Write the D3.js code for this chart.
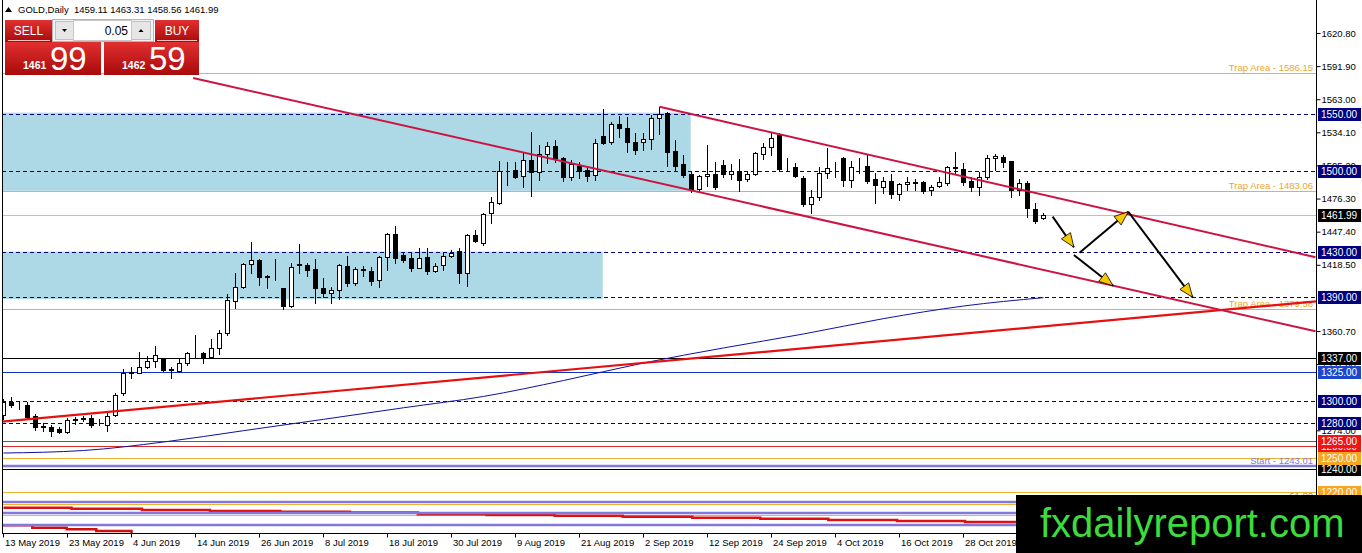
<!DOCTYPE html>
<html>
<head>
<meta charset="utf-8">
<script src="https://cdn.jsdelivr.net/npm/d3@7"></script>
<style>
  html, body { margin: 0; padding: 0; background: #fff; overflow: hidden; }
  svg { display: block; font-family: "Liberation Sans", Arial, sans-serif; }
</style>
</head>
<body>
<div class="d3"></div>
<script>
// GOLD daily candles, 13 May 2019 .. 8 Nov 2019
const candleOpen = [1287.2,1299.0,1296.3,1296.0,1286.5,1277.5,1277.2,1275.0,1272.8,1283.4,1284.3,1284.5,1278.9,1278.7,1287.2,1306.6,1324.0,1324.3,1329.6,1334.4,
  1336.3,1327.0,1326.0,1332.5,1340.4,1341.2,1338.2,1345.6,1359.2,1386.9,1399.4,1419.2,1422.7,1408.3,1408.5,1398.0,1382.5,1418.7,1418.3,1414.6,
  1398.0,1394.1,1396.5,1417.7,1402.9,1414.5,1413.0,1405.2,1425.6,1445.4,1427.0,1424.2,1416.0,1425.0,1413.3,1418.3,1426.2,1430.5,1411.6,1444.5,
  1437.8,1463.9,1472.7,1500.0,1501.2,1496.0,1510.0,1499.7,1514.9,1522.2,1512.0,1494.9,1504.7,1501.2,1496.9,1530.9,1525.9,1541.1,1537.6,1525.9,
  1525.4,1528.0,1546.3,1551.2,1517.8,1506.2,1497.7,1484.4,1496.0,1497.7,1505.6,1497.7,1500.3,1493.1,1497.7,1515.2,1520.9,1531.8,1503.4,1503.6,
  1494.0,1471.5,1478.0,1498.3,1503.4,1511.4,1492.5,1504.5,1504.7,1493.1,1486.6,1491.9,1480.3,1489.0,1490.0,1490.5,1483.8,1487.3,1490.1,1503.4,
  1501.8,1491.9,1486.6,1495.4,1511.4,1512.8,1509.3,1483.8,1490.1,1466.9,1459.11];
const candleHigh = [1301.5,1303.4,1300.0,1299.0,1288.0,1280.0,1278.7,1276.6,1284.5,1285.4,1286.5,1287.2,1283.6,1288.9,1306.6,1327.2,1329.0,1342.6,1338.8,1347.5,
  1336.9,1329.6,1336.9,1342.6,1357.2,1342.6,1353.5,1361.6,1393.0,1411.1,1420.3,1438.6,1423.3,1409.6,1423.3,1398.0,1419.8,1436.6,1419.8,1423.3,
  1406.7,1399.4,1419.0,1426.2,1417.0,1417.5,1416.8,1426.2,1446.5,1452.3,1429.0,1428.5,1432.9,1432.9,1420.0,1429.0,1431.0,1432.9,1445.4,1448.9,
  1463.9,1477.4,1509.0,1508.5,1508.0,1517.2,1534.6,1523.1,1525.9,1527.4,1513.0,1510.0,1508.0,1504.1,1528.0,1554.2,1543.4,1548.2,1547.4,1533.2,
  1533.2,1549.2,1556.5,1552.1,1527.4,1514.3,1499.7,1497.0,1523.1,1508.5,1509.9,1506.5,1510.6,1499.7,1516.5,1525.1,1533.2,1533.2,1511.4,1507.6,
  1496.0,1483.8,1504.1,1520.1,1508.5,1512.3,1509.3,1511.4,1514.3,1498.3,1494.9,1497.7,1490.1,1495.4,1493.2,1491.9,1487.7,1495.4,1505.0,1517.2,
  1507.1,1494.9,1499.7,1514.3,1515.2,1514.3,1509.5,1493.1,1491.9,1472.2,1463.31];
const candleLow = [1283.5,1294.0,1292.6,1284.5,1274.3,1273.4,1269.0,1271.4,1271.9,1279.5,1282.4,1277.2,1278.5,1273.7,1286.5,1304.6,1319.4,1323.7,1328.0,1329.0,
  1326.0,1319.4,1325.2,1331.0,1338.2,1332.5,1336.9,1340.6,1357.2,1380.5,1398.0,1411.1,1400.8,1398.0,1405.2,1379.6,1381.4,1411.1,1408.7,1385.4,
  1390.1,1384.9,1388.6,1400.0,1400.8,1409.0,1400.8,1399.4,1413.9,1419.8,1421.2,1413.3,1415.5,1410.4,1411.8,1413.9,1425.0,1402.9,1400.0,1438.6,
  1435.8,1455.3,1471.5,1488.1,1494.0,1486.6,1478.5,1492.5,1507.1,1508.5,1492.0,1492.5,1494.0,1491.9,1492.5,1523.6,1523.9,1530.0,1517.0,1515.2,
  1518.7,1519.3,1532.4,1504.7,1501.2,1494.9,1482.3,1482.5,1487.3,1484.4,1495.4,1493.1,1483.2,1491.9,1496.5,1510.6,1514.3,1500.6,1501.2,1494.9,
  1469.8,1463.4,1475.0,1494.0,1494.9,1487.3,1486.6,1498.3,1490.1,1472.7,1481.4,1476.5,1475.0,1483.8,1483.8,1480.9,1479.4,1486.6,1487.9,1498.9,
  1488.1,1483.2,1479.4,1493.1,1501.2,1504.1,1478.0,1479.4,1460.0,1455.3,1458.56];
const candleClose = [1299.0,1296.0,1296.0,1285.4,1277.2,1277.0,1273.7,1272.8,1283.0,1283.8,1284.7,1278.7,1278.7,1286.5,1304.6,1323.7,1324.6,1329.0,1334.4,1339.7,
  1326.7,1327.4,1332.5,1341.2,1340.8,1338.2,1345.6,1359.2,1387.7,1398.8,1419.2,1422.7,1407.6,1407.9,1408.9,1382.5,1416.8,1419.1,1413.9,1398.0,
  1394.1,1396.5,1418.0,1402.3,1414.8,1413.6,1404.6,1425.6,1445.4,1424.2,1422.7,1416.0,1424.2,1413.3,1417.4,1426.2,1429.0,1411.6,1444.5,1439.5,
  1462.8,1473.0,1500.3,1500.6,1494.9,1510.0,1499.7,1515.2,1522.2,1511.4,1494.9,1506.2,1500.6,1496.0,1525.1,1525.1,1541.1,1537.6,1525.9,1518.7,
  1528.0,1546.3,1550.1,1517.2,1504.7,1496.9,1484.4,1496.0,1497.7,1486.1,1497.7,1500.3,1492.5,1497.7,1515.7,1520.9,1529.5,1502.1,1503.0,1496.0,
  1471.5,1478.0,1498.3,1503.2,1503.0,1492.5,1504.1,1504.9,1491.9,1488.1,1491.9,1480.3,1489.0,1491.0,1491.0,1483.2,1486.1,1491.0,1503.7,1503.8,
  1491.0,1486.6,1495.4,1511.4,1513.4,1508.5,1483.8,1489.6,1467.8,1457.0,1461.99];

const dateTickIndex = [0, 8, 16, 24, 32, 40, 48, 56, 64, 72, 80, 88, 96, 104, 112, 120];
const dateTickLabels = ['13 May 2019', '23 May 2019', '4 Jun 2019', '14 Jun 2019', '26 Jun 2019', '8 Jul 2019', '18 Jul 2019', '30 Jul 2019',
  '9 Aug 2019', '21 Aug 2019', '2 Sep 2019', '12 Sep 2019', '24 Sep 2019', '4 Oct 2019', '16 Oct 2019', '28 Oct 2019'];
// scale labels that stay readable (the rest sit under the price boxes)
const priceTicks = [1620.8, 1591.9, 1563.0, 1534.1, 1505.2, 1476.3, 1447.4, 1418.5, 1360.7, 1331.8, 1274.0];

// horizontal objects
const dashedLevels = [1550, 1500, 1430, 1390, 1300, 1280];
const trapLevels = [1586.15, 1483.06, 1379.58];
const blackLevels = [1337, 1240];
const blueLevels = [1325];
const redLevels = [1260, 1265];
const orangeLevels = [1250, 1220];
const fiboLevels = [1209.7, 1200.1];
const purpleLevels = [1243.01, 1211.7, 1202.1, 1191.4];
const bidPrice = 1461.99;
const askPrice = 1462.59;
const lotSize = '0.05';

// zones: [from index, to index, top price, bottom price]
const zoneUpper = [-0.2, 85.9, 1551.3, 1483.06];
const zoneLower = [-0.2, 74.9, 1430, 1388.5];

// trend lines [index, price]
const channelLong = [[23.7, 1581.5], [164, 1360.5]];
const channelTop = [[82, 1556.5], [164, 1425.1]];
const supportLine = [[-0.44, 1281.5], [164.06, 1386.6]];

// moving average, read at every 10th bar
const maIndex = [0, 10, 20, 30, 40, 50, 60, 70, 80, 90, 100, 110, 120, 130];
const maValue = [1254.2, 1256.4, 1263.8, 1273.7, 1283.6, 1293.7, 1303.6, 1317.5, 1332.8, 1345.9, 1358.1, 1371.5, 1382.5, 1389.8];

// stepped pivot lines [start index, price]
const pivotUpper = [[0, 1206.5], [8.5, 1205.6], [17.3, 1204.5], [25.8, 1203.6], [34.6, 1203.0], [43.3, 1202.3], [51.8, 1200.8], [60.4, 1200.2],
  [68.9, 1199.5], [77.4, 1198.6], [86.1, 1197.8], [94.6, 1196.9], [103.1, 1195.7], [111.7, 1194.9], [120.2, 1194.0], [164, 1194.0]];
const pivotLower = [[-0.4, 1191.1], [3.6, 1189.0], [7.9, 1187.6], [11.6, 1186.1], [16.0, 1183.0]];

// forecast arrows
const arrowStart = [[131.15, 1460.5], [134.5, 1429.0], [140.6, 1464.8], [133.8, 1427.1]];
const arrowEnd = [[133.8, 1433.8], [140.6, 1464.8], [148.65, 1390.1], [138.7, 1400.2]];

const chartTitle = 'GOLD,Daily  1459.11 1463.31 1458.56 1461.99';
const logoText = 'fxdailyreport.com';

let width = 1362;
let height = 553;
let plotLeft = 2, plotRight = 1316, plotBottom = 533;

let svg = d3.select('.d3').append('svg').attr('width', width).attr('height', height);

let x = d3.scaleLinear().domain([0, 163]).range([3.5, 3.5 + 8 * 163]);
let y = d3.scaleLinear().domain([1184.4, 1649.6]).range([plotBottom, 0]);
let ySnap = p => Math.round(y(p)) + 0.5;

let defs = svg.append('defs');
defs.append('clipPath').attr('id', 'plot')
  .append('rect').attr('x', plotLeft).attr('y', 0).attr('width', plotRight - plotLeft).attr('height', plotBottom);
let grad = defs.append('linearGradient').attr('id', 'redGrad').attr('x1', 0).attr('y1', 0).attr('x2', 0).attr('y2', 1);
grad.append('stop').attr('offset', '0%').attr('stop-color', '#e23030');
grad.append('stop').attr('offset', '100%').attr('stop-color', '#a80a0a');

let plot = svg.append('g').attr('clip-path', 'url(#plot)');

// zones
[zoneUpper, zoneLower].forEach(z => {
  plot.append('rect')
    .attr('x', x(z[0])).attr('width', x(z[1]) - x(z[0]))
    .attr('y', y(z[2])).attr('height', y(z[3]) - y(z[2]))
    .attr('fill', '#add8e6');
});

// horizontal levels
function hline(p, color, w, dash) {
  plot.append('line')
    .attr('x1', plotLeft).attr('x2', plotRight)
    .attr('y1', ySnap(p)).attr('y2', ySnap(p))
    .attr('stroke', color).attr('stroke-width', w)
    .attr('stroke-dasharray', dash || null)
    .attr('shape-rendering', 'crispEdges');
}
orangeLevels.forEach(p => hline(p, '#f0b030', 1));
fiboLevels.forEach(p => hline(p, '#f0b030', 1));
trapLevels.forEach(p => hline(p, '#f0b030', 1));
redLevels.forEach(p => hline(p, '#d42a2a', 1));
blackLevels.forEach(p => hline(p, '#000', 1));
blueLevels.forEach(p => hline(p, '#1030c8', 1));
dashedLevels.forEach(p => hline(p, '#000080', 1, '4,3'));
hline(bidPrice, '#c0c0c0', 1);

// stepped pivots
let stepLine = d3.line().x(d => x(d[0])).y(d => y(d[1])).curve(d3.curveStepAfter);
plot.append('path').attr('d', stepLine(pivotUpper)).attr('fill', 'none').attr('stroke', '#e01010').attr('stroke-width', 2.5);
plot.append('path').attr('d', stepLine(pivotLower)).attr('fill', 'none').attr('stroke', '#d01010').attr('stroke-width', 2.5);
purpleLevels.forEach(p => {
  plot.append('line').attr('x1', plotLeft).attr('x2', plotRight)
    .attr('y1', Math.round(y(p))).attr('y2', Math.round(y(p)))
    .attr('stroke', '#8278dc').attr('stroke-width', 2.5);
});

// level captions
function caption(p, text, color) {
  plot.append('text').attr('x', plotRight - 3).attr('y', y(p) - 2)
    .attr('text-anchor', 'end').attr('font-size', 9.5).attr('fill', color).text(text);
}
caption(1586.15, 'Trap Area  - 1586.15', '#eea630');
caption(1483.06, 'Trap Area - 1483.06', '#eea630');
caption(1379.58, 'Trap Area - 1379.58', '#eea630');
caption(1243.01, 'Start - 1243.01', '#8278dc');
caption(1212.5, '61.80', '#909090');

// candles
let candles = plot.append('g');
candleOpen.forEach((o, i) => {
  let c = candleClose[i];
  let cx = x(i);
  candles.append('line')
    .attr('x1', cx).attr('x2', cx)
    .attr('y1', Math.round(y(candleHigh[i]))).attr('y2', Math.round(y(candleLow[i])) + 1)
    .attr('stroke', '#000').attr('stroke-width', 1);
  let top = ySnap(Math.max(o, c));
  let bot = ySnap(Math.min(o, c));
  candles.append('rect')
    .attr('x', cx - 2).attr('width', 4)
    .attr('y', top).attr('height', Math.max(bot - top, 0))
    .attr('fill', c >= o ? '#fff' : '#000')
    .attr('stroke', '#000').attr('stroke-width', 1)
    .attr('shape-rendering', 'crispEdges');
});

// moving average
let maLine = d3.line().x((d, i) => x(maIndex[i])).y(d => y(d)).curve(d3.curveMonotoneX);
plot.append('path').attr('d', maLine(maValue)).attr('fill', 'none').attr('stroke', '#1010a0').attr('stroke-width', 1);

// trend lines
let seg = d3.line().x(d => x(d[0])).y(d => y(d[1]));
plot.append('path').attr('d', seg(supportLine)).attr('stroke', '#e61010').attr('stroke-width', 2.2).attr('fill', 'none');
[channelLong, channelTop].forEach(l => {
  plot.append('path').attr('d', seg(l)).attr('stroke', '#cc1442').attr('stroke-width', 2).attr('fill', 'none');
});

// arrows
arrowStart.forEach((s, i) => {
  let e = arrowEnd[i];
  let x1 = x(s[0]), y1 = y(s[1]), x2 = x(e[0]), y2 = y(e[1]);
  plot.append('line').attr('x1', x1).attr('y1', y1).attr('x2', x2).attr('y2', y2)
    .attr('stroke', '#000').attr('stroke-width', 2);
  let len = Math.hypot(x2 - x1, y2 - y1);
  let ux = (x2 - x1) / len, uy = (y2 - y1) / len;
  let bx = x2 - ux * 14, by = y2 - uy * 14;
  let pts = [[x2, y2], [bx - uy * 5.5, by + ux * 5.5], [bx + uy * 5.5, by - ux * 5.5]];
  plot.append('polygon').attr('points', pts.map(p => p.join(',')).join(' '))
    .attr('fill', '#f5c800').attr('stroke', '#000').attr('stroke-width', 0.8);
});

// frame
svg.append('line').attr('x1', plotLeft + 0.5).attr('x2', plotLeft + 0.5).attr('y1', 0).attr('y2', plotBottom).attr('stroke', '#000');
svg.append('line').attr('x1', plotRight + 0.5).attr('x2', plotRight + 0.5).attr('y1', 0).attr('y2', plotBottom + 1).attr('stroke', '#000');

// axes
let xAxis = d3.axisBottom(x).tickValues(dateTickIndex).tickSize(4).tickFormat((d, i) => dateTickLabels[i]);
let gx = svg.append('g').attr('transform', 'translate(-0.5,' + (plotBottom + 0.5) + ')').call(xAxis);
gx.select('.domain').attr('d', 'M' + (plotLeft + 0.5) + ',0H' + (plotRight + 1));
gx.selectAll('text').attr('text-anchor', 'start').attr('dx', 1.5).attr('dy', '0.6em')
  .attr('font-size', 9.5).attr('font-family', '"Liberation Sans", Arial, sans-serif').attr('fill', '#000');

let yAxis = d3.axisRight(y).tickValues(priceTicks).tickSize(4).tickFormat(d3.format('.2f'));
let gy = svg.append('g').attr('transform', 'translate(' + (plotRight + 0.5) + ',0)').call(yAxis);
gy.select('.domain').remove();
gy.selectAll('text').attr('x', 5).attr('font-size', 9.5).attr('font-family', '"Liberation Sans", Arial, sans-serif').attr('fill', '#000');

// price boxes on the right axis
function priceBox(p, bg, fg) {
  let cy = Math.round(y(p));
  svg.append('rect').attr('x', plotRight + 2).attr('y', cy - 6).attr('width', 43).attr('height', 13).attr('fill', bg);
  svg.append('text').attr('x', plotRight + 5).attr('y', cy + 0.5).attr('dy', '0.35em')
    .attr('font-size', 10).attr('fill', fg).text(d3.format('.2f')(p));
}
dashedLevels.forEach(p => priceBox(p, '#000080', '#fff'));
priceBox(bidPrice, '#000', '#fff');
blackLevels.forEach(p => priceBox(p, '#000', '#fff'));
blueLevels.forEach(p => priceBox(p, '#1c46cc', '#fff'));
redLevels.forEach(p => priceBox(p, '#f01414', '#fff'));
orangeLevels.forEach(p => priceBox(p, '#f5a623', '#fff'));

// header
svg.append('path').attr('d', 'M5,12 L8.5,7 L12,12 Z').attr('fill', '#000');
svg.append('text').attr('x', 18).attr('y', 13).attr('font-size', 9.5).attr('fill', '#000')
  .attr('xml:space', 'preserve').style('white-space', 'pre').text(chartTitle);

// one-click trading panel
let panel = svg.append('g');
panel.append('rect').attr('x', 5).attr('y', 20).attr('width', 47).attr('height', 22).attr('fill', 'url(#redGrad)');
panel.append('rect').attr('x', 155).attr('y', 20).attr('width', 44).attr('height', 22).attr('fill', 'url(#redGrad)');
panel.append('line').attr('x1', 8).attr('x2', 50).attr('y1', 40.5).attr('y2', 40.5).attr('stroke', '#f4c0c0');
panel.append('line').attr('x1', 157).attr('x2', 197).attr('y1', 40.5).attr('y2', 40.5).attr('stroke', '#f4c0c0');
panel.append('text').attr('x', 28.5).attr('y', 35).attr('text-anchor', 'middle').attr('font-size', 12).attr('fill', '#fff').text('SELL');
panel.append('text').attr('x', 177).attr('y', 35).attr('text-anchor', 'middle').attr('font-size', 12).attr('fill', '#fff').text('BUY');
panel.append('rect').attr('x', 52.5).attr('y', 19.5).attr('width', 101).attr('height', 22).attr('fill', '#f2f2f2').attr('stroke', '#b4b4b4');
panel.append('rect').attr('x', 55.5).attr('y', 21.5).attr('width', 18).attr('height', 18).attr('fill', '#e6e6e6').attr('stroke', '#c0c0c0');
panel.append('rect').attr('x', 131.5).attr('y', 21.5).attr('width', 19).attr('height', 18).attr('fill', '#e6e6e6').attr('stroke', '#c0c0c0');
panel.append('rect').attr('x', 73.5).attr('y', 20.5).attr('width', 58).attr('height', 20).attr('fill', '#fff').attr('stroke', '#c8c8c8');
panel.append('path').attr('d', 'M62,29 L67,29 L64.5,32 Z').attr('fill', '#000');
panel.append('path').attr('d', 'M138.5,32 L143.5,32 L141,29 Z').attr('fill', '#000');
panel.append('text').attr('x', 128).attr('y', 35).attr('text-anchor', 'end').attr('font-size', 12).attr('fill', '#000').text(lotSize);

[[5, 96, bidPrice], [104, 95, askPrice]].forEach(b => {
  panel.append('rect').attr('x', b[0]).attr('y', 42).attr('width', b[1]).attr('height', 33).attr('fill', 'url(#redGrad)');
  let s = d3.format('.2f')(b[2]).split('.');
  panel.append('text').attr('x', b[0] + 18).attr('y', 69).attr('font-size', 10.5).attr('font-weight', 'bold').attr('fill', '#fff').text(s[0]);
  panel.append('text').attr('x', b[0] + 45).attr('y', 70).attr('font-size', 33).attr('fill', '#fff').text(s[1]);
});

// site logo
svg.append('rect').attr('x', 1016).attr('y', 495).attr('width', width - 1016).attr('height', height - 495).attr('fill', '#000');
svg.append('text').attr('x', 1040).attr('y', 537).attr('font-size', 40).attr('fill', '#3bdc3b').text(logoText);
</script>
</body>
</html>
